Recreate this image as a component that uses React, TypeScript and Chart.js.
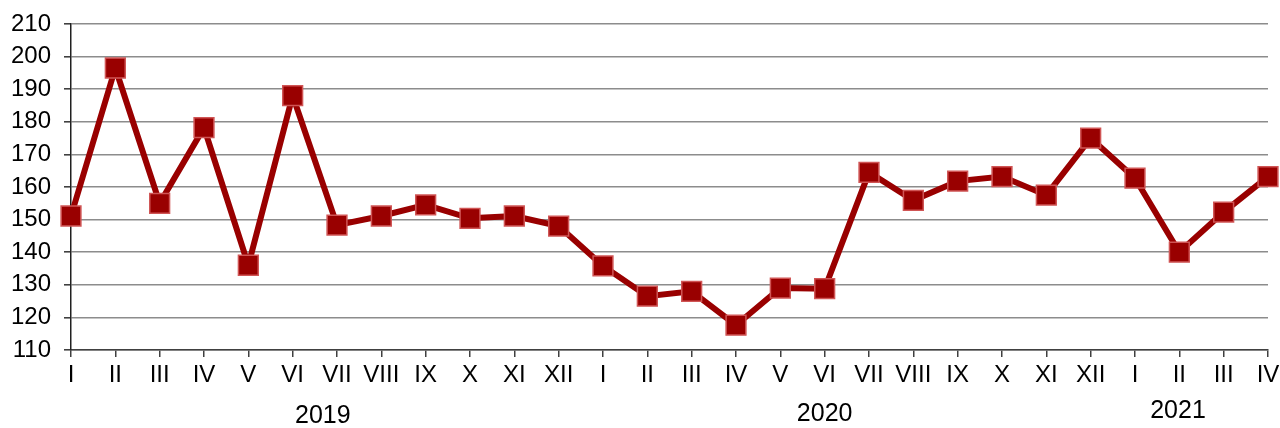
import React, { useEffect, useRef } from "react";
import { Chart, registerables } from "chart.js";

Chart.register(...registerables);

const monthLabels: string[] = [
  "I", "II", "III", "IV", "V", "VI", "VII", "VIII", "IX", "X", "XI", "XII",
  "I", "II", "III", "IV", "V", "VI", "VII", "VIII", "IX", "X", "XI", "XII",
  "I", "II", "III", "IV",
];

const values: number[] = [
  151.1, 196.5, 155.0, 178.2, 136.0, 188.0, 148.3, 151.1, 154.5, 150.4, 151.1, 148.0,
  135.8, 126.5, 128.0, 117.6, 129.0, 128.8, 164.5, 155.9, 161.8, 163.2, 157.5, 175.0,
  162.7, 140.0, 152.3, 163.2,
];

const yearLabels: string[] = ["2019", "2020", "2021"];

const yMin = 110;
const yMax = 210;
const yStep = 10;

const yearAnchors = [5.68, 17.0, 24.97];
const yearYs = [416, 414, 411];

const FONT = "'Liberation Sans', Arial, sans-serif";

const yearPlugin = {
  id: "yearLabels",
  afterDraw(chart: any) {
    const ctx = chart.ctx;
    const xs = chart.scales.x;
    ctx.save();
    ctx.font = `25px ${FONT}`;
    ctx.fillStyle = "#000000";
    ctx.textAlign = "center";
    ctx.textBaseline = "middle";
    yearLabels.forEach((lab, i) => {
      const x = xs.getPixelForValue(yearAnchors[i]);
      ctx.fillText(lab, x, yearYs[i]);
    });
    ctx.restore();
  },
};

export default function App() {
  const ref = useRef<HTMLCanvasElement | null>(null);

  useEffect(() => {
    document.body.style.margin = "0";
    const canvas = ref.current;
    if (!canvas) return;
    const chart = new Chart(canvas, {
      type: "line",
      data: {
        labels: monthLabels,
        datasets: [
          {
            data: values,
            borderColor: "#990000",
            borderWidth: 6,
            backgroundColor: "#990000",
            pointStyle: "rect",
            pointRadius: 14,
            pointHoverRadius: 14,
            pointBackgroundColor: "#990000",
            pointBorderColor: "#d05555",
            pointBorderWidth: 1.5,
            tension: 0,
            clip: false as any,
          },
        ],
      },
      options: {
        animation: false,
        responsive: false,
        maintainAspectRatio: false,
        devicePixelRatio: 1,
        layout: { autoPadding: false, padding: { top: 24, right: 12, left: 0, bottom: 0 } },
        plugins: {
          legend: { display: false },
          tooltip: { enabled: false },
          title: { display: false },
        },
        scales: {
          x: {
            type: "category",
            offset: false,
            border: { display: true, color: "#404040", width: 1.5 },
            grid: {
              drawOnChartArea: false,
              drawTicks: true,
              tickLength: 7,
              color: "#404040",
              lineWidth: 1.5,
            },
            ticks: {
              color: "#000000",
              font: { family: FONT, size: 24 },
              padding: 4,
              maxRotation: 0,
              autoSkip: false,
            },
            afterFit(scale: any) {
              scale.height = 78;
              scale.paddingLeft = 0;
              scale.paddingRight = 0;
            },
          },
          y: {
            min: yMin,
            max: yMax,
            border: { display: true, color: "#202020", width: 1.5 },
            grid: {
              color: "#8c8c8c",
              lineWidth: 1.6,
              drawTicks: true,
              tickLength: 7,
              tickColor: "#404040",
            },
            ticks: {
              stepSize: yStep,
              color: "#000000",
              font: { family: FONT, size: 24 },
              padding: 13,
            },
            afterFit(scale: any) {
              scale.width = 71;
              scale.paddingTop = 0;
              scale.paddingBottom = 0;
            },
          },
        },
      },
      plugins: [yearPlugin],
    });
    return () => chart.destroy();
  }, []);

  return (
    <div style={{ width: 1280, height: 428, position: "relative", background: "#ffffff" }}>
      <canvas ref={ref} width={1280} height={428} style={{ width: 1280, height: 428, display: "block" }} />
    </div>
  );
}
